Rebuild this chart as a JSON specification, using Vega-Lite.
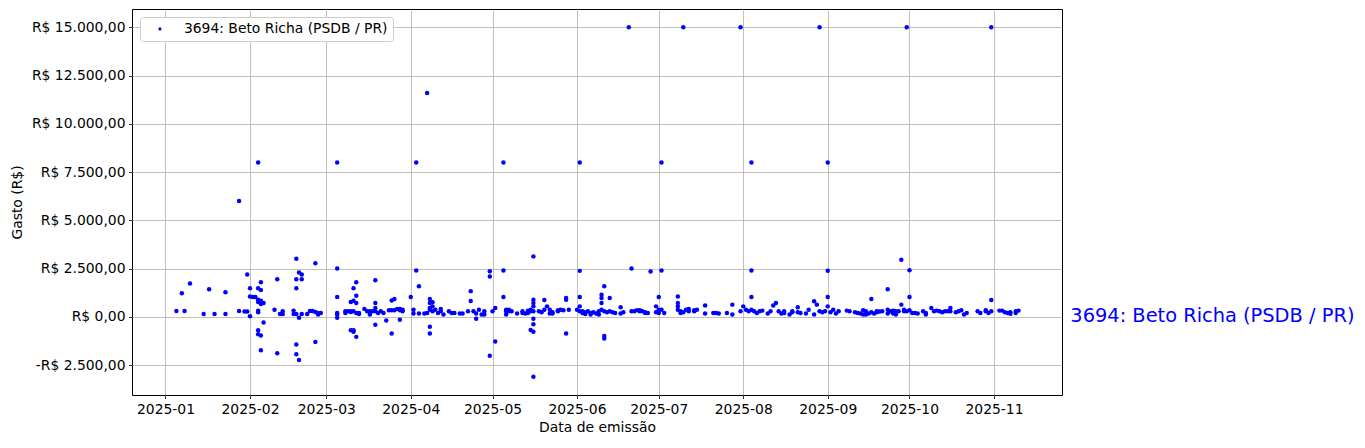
{
  "$schema": "https://vega.github.io/schema/vega-lite/v6.json",
  "width": 930,
  "height": 386,
  "autosize": {"type": "none"},
  "padding": {"left": 132, "top": 9, "right": 303, "bottom": 53},
  "background": "white",
  "config": {
    "font": "DejaVu Sans",
    "view": {"stroke": "black", "strokeWidth": 1},
    "axis": {
      "domain": false,
      "tickColor": "black",
      "tickSize": 3.5,
      "tickWidth": 0.8,
      "labelPadding": 3.5,
      "labelFontSize": 13.9,
      "labelColor": "black",
      "labelFont": "DejaVu Sans",
      "grid": true,
      "gridColor": "#b0b0b0",
      "gridWidth": 0.8,
      "titleFontSize": 13.9,
      "titleFontWeight": "normal",
      "titleColor": "black",
      "titleFont": "DejaVu Sans",
      "labelOverlap": false,
      "labelFlush": false
    }
  },
  "layer": [
    {
      "data": {"values": [
        {"data":"2025-01-05","gasto":300},{"data":"2025-01-07","gasto":1220},{"data":"2025-01-08","gasto":300},{"data":"2025-01-10","gasto":1730},
        {"data":"2025-01-15","gasto":150},{"data":"2025-01-17","gasto":1430},{"data":"2025-01-19","gasto":150},{"data":"2025-01-23","gasto":1275},
        {"data":"2025-01-23","gasto":150},{"data":"2025-01-28","gasto":6000},{"data":"2025-01-28","gasto":300},{"data":"2025-01-30","gasto":270},
        {"data":"2025-01-31","gasto":2190},{"data":"2025-01-31","gasto":270},
        {"data":"2025-02-01","gasto":30},{"data":"2025-02-01","gasto":1480},{"data":"2025-02-01","gasto":1050},{"data":"2025-02-02","gasto":1020},
        {"data":"2025-02-03","gasto":1020},{"data":"2025-02-04","gasto":8000},{"data":"2025-02-04","gasto":320},{"data":"2025-02-04","gasto":1480},
        {"data":"2025-02-04","gasto":880},{"data":"2025-02-04","gasto":765},{"data":"2025-02-04","gasto":240},{"data":"2025-02-05","gasto":1390},
        {"data":"2025-02-05","gasto":660},{"data":"2025-02-05","gasto":830},{"data":"2025-02-05","gasto":1785},{"data":"2025-02-06","gasto":710},
        {"data":"2025-02-06","gasto":-290},{"data":"2025-02-04","gasto":-700},{"data":"2025-02-04","gasto":-900},{"data":"2025-02-05","gasto":-970},
        {"data":"2025-02-05","gasto":-1730},{"data":"2025-02-10","gasto":360},{"data":"2025-02-11","gasto":1940},{"data":"2025-02-11","gasto":-1890},
        {"data":"2025-02-12","gasto":150},{"data":"2025-02-13","gasto":150},{"data":"2025-02-13","gasto":290},{"data":"2025-02-17","gasto":320},
        {"data":"2025-02-17","gasto":150},{"data":"2025-02-18","gasto":150},{"data":"2025-02-18","gasto":3010},{"data":"2025-02-18","gasto":1940},
        {"data":"2025-02-18","gasto":1480},{"data":"2025-02-18","gasto":-1430},{"data":"2025-02-18","gasto":-1940},{"data":"2025-02-19","gasto":2295},
        {"data":"2025-02-20","gasto":2190},{"data":"2025-02-20","gasto":1940},{"data":"2025-02-19","gasto":-50},{"data":"2025-02-19","gasto":-2244},
        {"data":"2025-02-20","gasto":150},{"data":"2025-02-22","gasto":150},{"data":"2025-02-23","gasto":300},{"data":"2025-02-24","gasto":300},
        {"data":"2025-02-25","gasto":250},{"data":"2025-02-26","gasto":200},{"data":"2025-02-26","gasto":120},{"data":"2025-02-27","gasto":200},
        {"data":"2025-02-25","gasto":2780},{"data":"2025-02-25","gasto":-1300},
        {"data":"2025-03-05","gasto":8000},{"data":"2025-03-05","gasto":2500},{"data":"2025-03-05","gasto":1020},{"data":"2025-03-05","gasto":200},
        {"data":"2025-03-05","gasto":120},{"data":"2025-03-05","gasto":-50},{"data":"2025-03-08","gasto":200},{"data":"2025-03-08","gasto":290},
        {"data":"2025-03-09","gasto":290},{"data":"2025-03-10","gasto":290},{"data":"2025-03-10","gasto":250},{"data":"2025-03-11","gasto":290},
        {"data":"2025-03-12","gasto":200},{"data":"2025-03-13","gasto":200},{"data":"2025-03-13","gasto":150},{"data":"2025-03-10","gasto":765},
        {"data":"2025-03-11","gasto":830},{"data":"2025-03-12","gasto":710},{"data":"2025-03-12","gasto":1090},{"data":"2025-03-11","gasto":1480},
        {"data":"2025-03-12","gasto":1785},{"data":"2025-03-10","gasto":-700},{"data":"2025-03-11","gasto":-700},{"data":"2025-03-11","gasto":-780},
        {"data":"2025-03-12","gasto":-1040},{"data":"2025-03-15","gasto":410},{"data":"2025-03-16","gasto":290},{"data":"2025-03-17","gasto":120},
        {"data":"2025-03-17","gasto":290},{"data":"2025-03-18","gasto":290},{"data":"2025-03-19","gasto":290},{"data":"2025-03-19","gasto":460},
        {"data":"2025-03-19","gasto":714},{"data":"2025-03-20","gasto":200},{"data":"2025-03-21","gasto":290},{"data":"2025-03-22","gasto":200},
        {"data":"2025-03-19","gasto":1890},{"data":"2025-03-19","gasto":-410},{"data":"2025-03-23","gasto":-190},{"data":"2025-03-24","gasto":340},
        {"data":"2025-03-25","gasto":340},{"data":"2025-03-26","gasto":920},{"data":"2025-03-25","gasto":850},{"data":"2025-03-26","gasto":340},
        {"data":"2025-03-27","gasto":410},{"data":"2025-03-28","gasto":340},{"data":"2025-03-28","gasto":410},{"data":"2025-03-29","gasto":370},
        {"data":"2025-03-29","gasto":290},{"data":"2025-03-25","gasto":-870},{"data":"2025-03-28","gasto":-150},
        {"data":"2025-04-01","gasto":1020},{"data":"2025-04-02","gasto":370},{"data":"2025-04-02","gasto":170},{"data":"2025-04-03","gasto":8000},
        {"data":"2025-04-03","gasto":2400},{"data":"2025-04-04","gasto":1580},{"data":"2025-04-04","gasto":170},{"data":"2025-04-06","gasto":170},
        {"data":"2025-04-07","gasto":11600},{"data":"2025-04-07","gasto":200},{"data":"2025-04-08","gasto":920},{"data":"2025-04-08","gasto":714},
        {"data":"2025-04-08","gasto":460},{"data":"2025-04-08","gasto":370},{"data":"2025-04-09","gasto":540},{"data":"2025-04-09","gasto":750},
        {"data":"2025-04-09","gasto":290},{"data":"2025-04-10","gasto":370},{"data":"2025-04-11","gasto":200},{"data":"2025-04-12","gasto":410},
        {"data":"2025-04-12","gasto":290},{"data":"2025-04-13","gasto":120},{"data":"2025-04-08","gasto":-510},{"data":"2025-04-08","gasto":-870},
        {"data":"2025-04-15","gasto":290},{"data":"2025-04-16","gasto":200},{"data":"2025-04-17","gasto":200},{"data":"2025-04-19","gasto":170},
        {"data":"2025-04-20","gasto":170},{"data":"2025-04-22","gasto":290},{"data":"2025-04-23","gasto":1330},{"data":"2025-04-23","gasto":815},
        {"data":"2025-04-24","gasto":290},{"data":"2025-04-25","gasto":170},{"data":"2025-04-25","gasto":-100},{"data":"2025-04-26","gasto":370},
        {"data":"2025-04-27","gasto":120},{"data":"2025-04-28","gasto":290},{"data":"2025-04-28","gasto":120},{"data":"2025-04-30","gasto":2360},
        {"data":"2025-04-30","gasto":2090},{"data":"2025-04-30","gasto":-2020},
        {"data":"2025-05-01","gasto":290},{"data":"2025-05-02","gasto":460},{"data":"2025-05-02","gasto":-1275},{"data":"2025-05-05","gasto":8000},
        {"data":"2025-05-05","gasto":2400},{"data":"2025-05-05","gasto":1020},{"data":"2025-05-06","gasto":370},{"data":"2025-05-06","gasto":290},
        {"data":"2025-05-07","gasto":370},{"data":"2025-05-07","gasto":290},{"data":"2025-05-08","gasto":290},{"data":"2025-05-10","gasto":170},
        {"data":"2025-05-06","gasto":120},{"data":"2025-05-12","gasto":200},{"data":"2025-05-12","gasto":290},{"data":"2025-05-13","gasto":170},
        {"data":"2025-05-14","gasto":320},{"data":"2025-05-14","gasto":200},{"data":"2025-05-15","gasto":290},{"data":"2025-05-15","gasto":370},
        {"data":"2025-05-16","gasto":714},{"data":"2025-05-16","gasto":880},{"data":"2025-05-16","gasto":540},{"data":"2025-05-16","gasto":290},
        {"data":"2025-05-16","gasto":3130},{"data":"2025-05-16","gasto":-100},{"data":"2025-05-16","gasto":-390},{"data":"2025-05-15","gasto":-680},
        {"data":"2025-05-16","gasto":-780},{"data":"2025-05-16","gasto":-3110},{"data":"2025-05-18","gasto":290},{"data":"2025-05-19","gasto":240},{"data":"2025-05-20","gasto":370},
        {"data":"2025-05-20","gasto":870},{"data":"2025-05-21","gasto":540},{"data":"2025-05-22","gasto":370},{"data":"2025-05-22","gasto":170},
        {"data":"2025-05-23","gasto":240},{"data":"2025-05-23","gasto":170},{"data":"2025-05-25","gasto":290},{"data":"2025-05-25","gasto":340},
        {"data":"2025-05-26","gasto":370},{"data":"2025-05-27","gasto":340},{"data":"2025-05-28","gasto":880},{"data":"2025-05-28","gasto":970},
        {"data":"2025-05-29","gasto":370},{"data":"2025-05-28","gasto":-870},
        {"data":"2025-06-01","gasto":370},{"data":"2025-06-02","gasto":8000},{"data":"2025-06-02","gasto":2380},{"data":"2025-06-02","gasto":1020},
        {"data":"2025-06-02","gasto":540},{"data":"2025-06-02","gasto":290},{"data":"2025-06-03","gasto":290},{"data":"2025-06-03","gasto":200},
        {"data":"2025-06-04","gasto":240},{"data":"2025-06-04","gasto":150},{"data":"2025-06-05","gasto":290},{"data":"2025-06-06","gasto":200},
        {"data":"2025-06-06","gasto":120},{"data":"2025-06-07","gasto":240},{"data":"2025-06-08","gasto":170},{"data":"2025-06-09","gasto":290},
        {"data":"2025-06-09","gasto":120},{"data":"2025-06-10","gasto":714},{"data":"2025-06-10","gasto":1140},{"data":"2025-06-11","gasto":1580},
        {"data":"2025-06-10","gasto":970},{"data":"2025-06-10","gasto":370},{"data":"2025-06-11","gasto":290},{"data":"2025-06-12","gasto":240},
        {"data":"2025-06-13","gasto":290},{"data":"2025-06-13","gasto":970},{"data":"2025-06-14","gasto":240},{"data":"2025-06-15","gasto":200},
        {"data":"2025-06-17","gasto":490},{"data":"2025-06-17","gasto":170},{"data":"2025-06-18","gasto":240},{"data":"2025-06-11","gasto":-990},
        {"data":"2025-06-11","gasto":-1120},{"data":"2025-06-20","gasto":15000},{"data":"2025-06-21","gasto":2500},{"data":"2025-06-21","gasto":290},
        {"data":"2025-06-22","gasto":290},{"data":"2025-06-23","gasto":340},{"data":"2025-06-24","gasto":340},{"data":"2025-06-24","gasto":290},
        {"data":"2025-06-25","gasto":290},{"data":"2025-06-26","gasto":200},{"data":"2025-06-26","gasto":240},{"data":"2025-06-27","gasto":200},
        {"data":"2025-06-28","gasto":2350},{"data":"2025-06-30","gasto":240},{"data":"2025-06-30","gasto":540},
        {"data":"2025-07-01","gasto":370},{"data":"2025-07-01","gasto":1020},{"data":"2025-07-01","gasto":200},{"data":"2025-07-02","gasto":8000},
        {"data":"2025-07-02","gasto":2400},{"data":"2025-07-02","gasto":370},{"data":"2025-07-03","gasto":200},{"data":"2025-07-08","gasto":1050},
        {"data":"2025-07-08","gasto":714},{"data":"2025-07-08","gasto":540},{"data":"2025-07-08","gasto":370},{"data":"2025-07-09","gasto":200},
        {"data":"2025-07-09","gasto":290},{"data":"2025-07-10","gasto":15000},{"data":"2025-07-10","gasto":240},{"data":"2025-07-11","gasto":370},
        {"data":"2025-07-12","gasto":410},{"data":"2025-07-12","gasto":290},{"data":"2025-07-14","gasto":290},{"data":"2025-07-14","gasto":340},
        {"data":"2025-07-15","gasto":370},{"data":"2025-07-18","gasto":580},{"data":"2025-07-18","gasto":170},{"data":"2025-07-21","gasto":200},
        {"data":"2025-07-22","gasto":200},{"data":"2025-07-23","gasto":170},{"data":"2025-07-26","gasto":200},{"data":"2025-07-28","gasto":120},
        {"data":"2025-07-28","gasto":630},{"data":"2025-07-31","gasto":15000},{"data":"2025-07-31","gasto":290},
        {"data":"2025-08-01","gasto":540},{"data":"2025-08-02","gasto":370},{"data":"2025-08-03","gasto":290},{"data":"2025-08-04","gasto":8000},
        {"data":"2025-08-04","gasto":2400},{"data":"2025-08-04","gasto":1020},{"data":"2025-08-04","gasto":370},{"data":"2025-08-05","gasto":290},
        {"data":"2025-08-06","gasto":200},{"data":"2025-08-07","gasto":290},{"data":"2025-08-08","gasto":320},{"data":"2025-08-10","gasto":170},
        {"data":"2025-08-11","gasto":290},{"data":"2025-08-12","gasto":580},{"data":"2025-08-13","gasto":714},{"data":"2025-08-14","gasto":290},
        {"data":"2025-08-15","gasto":170},{"data":"2025-08-16","gasto":290},{"data":"2025-08-16","gasto":200},{"data":"2025-08-18","gasto":120},
        {"data":"2025-08-19","gasto":240},{"data":"2025-08-19","gasto":290},{"data":"2025-08-21","gasto":240},{"data":"2025-08-21","gasto":490},
        {"data":"2025-08-22","gasto":200},{"data":"2025-08-24","gasto":170},{"data":"2025-08-25","gasto":370},{"data":"2025-08-27","gasto":800},
        {"data":"2025-08-27","gasto":120},{"data":"2025-08-28","gasto":630},{"data":"2025-08-29","gasto":15000},{"data":"2025-08-29","gasto":290},
        {"data":"2025-08-30","gasto":240},{"data":"2025-08-31","gasto":290},
        {"data":"2025-09-01","gasto":8000},{"data":"2025-09-01","gasto":2390},{"data":"2025-09-01","gasto":1020},{"data":"2025-09-01","gasto":540},
        {"data":"2025-09-02","gasto":240},{"data":"2025-09-03","gasto":370},{"data":"2025-09-04","gasto":170},{"data":"2025-09-05","gasto":290},
        {"data":"2025-09-08","gasto":320},{"data":"2025-09-09","gasto":290},{"data":"2025-09-11","gasto":240},{"data":"2025-09-12","gasto":200},
        {"data":"2025-09-13","gasto":170},{"data":"2025-09-14","gasto":340},{"data":"2025-09-14","gasto":120},{"data":"2025-09-15","gasto":120},
        {"data":"2025-09-15","gasto":290},{"data":"2025-09-16","gasto":170},{"data":"2025-09-17","gasto":240},{"data":"2025-09-17","gasto":920},
        {"data":"2025-09-18","gasto":170},{"data":"2025-09-19","gasto":290},{"data":"2025-09-19","gasto":240},{"data":"2025-09-20","gasto":270},
        {"data":"2025-09-21","gasto":290},{"data":"2025-09-23","gasto":170},{"data":"2025-09-23","gasto":1430},{"data":"2025-09-23","gasto":370},
        {"data":"2025-09-24","gasto":290},{"data":"2025-09-25","gasto":320},{"data":"2025-09-25","gasto":170},{"data":"2025-09-26","gasto":290},
        {"data":"2025-09-26","gasto":120},{"data":"2025-09-27","gasto":290},{"data":"2025-09-28","gasto":2960},{"data":"2025-09-28","gasto":630},
        {"data":"2025-09-29","gasto":370},{"data":"2025-09-29","gasto":290},{"data":"2025-09-30","gasto":15000},{"data":"2025-09-30","gasto":290},
        {"data":"2025-10-01","gasto":2410},{"data":"2025-10-01","gasto":1020},{"data":"2025-10-01","gasto":340},{"data":"2025-10-02","gasto":200},
        {"data":"2025-10-03","gasto":200},{"data":"2025-10-04","gasto":170},{"data":"2025-10-06","gasto":290},{"data":"2025-10-07","gasto":200},
        {"data":"2025-10-07","gasto":120},{"data":"2025-10-09","gasto":460},{"data":"2025-10-10","gasto":290},{"data":"2025-10-11","gasto":320},
        {"data":"2025-10-12","gasto":290},{"data":"2025-10-13","gasto":240},{"data":"2025-10-14","gasto":290},{"data":"2025-10-15","gasto":290},
        {"data":"2025-10-16","gasto":460},{"data":"2025-10-16","gasto":290},{"data":"2025-10-18","gasto":240},{"data":"2025-10-19","gasto":290},
        {"data":"2025-10-20","gasto":340},{"data":"2025-10-21","gasto":120},{"data":"2025-10-22","gasto":200},{"data":"2025-10-26","gasto":290},
        {"data":"2025-10-27","gasto":200},{"data":"2025-10-29","gasto":340},{"data":"2025-10-29","gasto":290},{"data":"2025-10-30","gasto":200},
        {"data":"2025-10-31","gasto":15000},{"data":"2025-10-31","gasto":870},{"data":"2025-10-31","gasto":290},
        {"data":"2025-11-03","gasto":320},{"data":"2025-11-04","gasto":320},{"data":"2025-11-05","gasto":240},{"data":"2025-11-06","gasto":200},
        {"data":"2025-11-07","gasto":240},{"data":"2025-11-07","gasto":160},{"data":"2025-11-09","gasto":290},{"data":"2025-11-09","gasto":200},
        {"data":"2025-11-10","gasto":320}
      ]},
      "mark": {"type": "circle", "size": 20, "opacity": 1},
      "encoding": {
        "x": {
          "field": "data",
          "type": "temporal",
          "scale": {
            "type": "utc",
            "domain": [
              {"year": 2024, "month": 12, "date": 19, "hours": 17, "utc": true},
              {"year": 2025, "month": 11, "date": 25, "hours": 23, "utc": true}
            ]
          },
          "axis": {
            "title": "Data de emissão",
            "titlePadding": 5,
            "values": [
              {"year": 2025, "month": 1, "date": 1, "utc": true},
              {"year": 2025, "month": 2, "date": 1, "utc": true},
              {"year": 2025, "month": 3, "date": 1, "utc": true},
              {"year": 2025, "month": 4, "date": 1, "utc": true},
              {"year": 2025, "month": 5, "date": 1, "utc": true},
              {"year": 2025, "month": 6, "date": 1, "utc": true},
              {"year": 2025, "month": 7, "date": 1, "utc": true},
              {"year": 2025, "month": 8, "date": 1, "utc": true},
              {"year": 2025, "month": 9, "date": 1, "utc": true},
              {"year": 2025, "month": 10, "date": 1, "utc": true},
              {"year": 2025, "month": 11, "date": 1, "utc": true}
            ],
            "labelExpr": "utcFormat(datum.value, '%Y-%m')"
          }
        },
        "y": {
          "field": "gasto",
          "type": "quantitative",
          "scale": {"domain": [-4052, 15948], "nice": false, "zero": false},
          "axis": {
            "title": "Gasto (R$)",
            "titlePadding": 7,
            "values": [-2500, 0, 2500, 5000, 7500, 10000, 12500, 15000],
            "labelExpr": "(datum.value < 0 ? '-' : '') + 'R$ ' + replace(replace(replace(format(abs(datum.value), ',.2f'), ',', '#'), '.', ','), '#', '.')"
          }
        },
        "color": {
          "datum": "3694: Beto Richa (PSDB / PR)",
          "type": "nominal",
          "scale": {"range": ["#0000ff"]},
          "legend": {
            "title": null,
            "orient": "top-left",
            "offset": 8,
            "fillColor": "white",
            "strokeColor": "#cccccc",
            "cornerRadius": 3,
            "padding": 5,
            "symbolType": "circle",
            "symbolSize": 10,
            "symbolStrokeWidth": 0,
            "symbolOffset": 8,
            "labelOffset": 17,
            "labelFontSize": 13.9,
            "labelColor": "black",
            "labelFont": "DejaVu Sans",
            "labelLimit": 400
          }
        }
      }
    },
    {
      "data": {"values": [{"data": "2025-11-29", "gasto": 60, "rotulo": "3694: Beto Richa (PSDB / PR)"}]},
      "mark": {"type": "text", "align": "left", "baseline": "middle", "fontSize": 19.4, "color": "#0000ff", "font": "DejaVu Sans", "clip": false},
      "encoding": {
        "x": {"field": "data", "type": "temporal"},
        "y": {"field": "gasto", "type": "quantitative"},
        "text": {"field": "rotulo"}
      }
    }
  ]
}
